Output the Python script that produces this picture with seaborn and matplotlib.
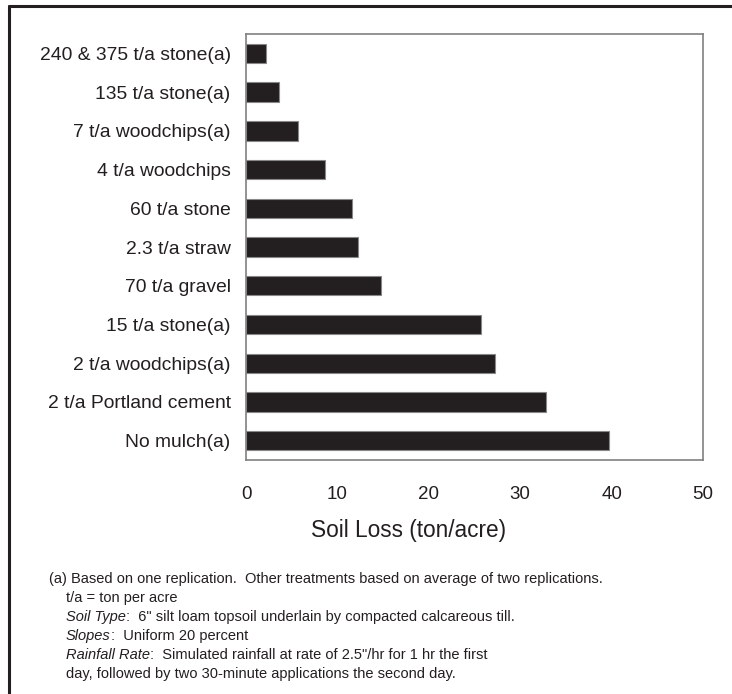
import numpy as np
import pandas as pd
import matplotlib
matplotlib.use('Agg')
import matplotlib.pyplot as plt
import seaborn as sns

# treatments, top to bottom as in the chart
treatments = ['240 & 375 t/a stone(a)', '135 t/a stone(a)', '7 t/a woodchips(a)',
              '4 t/a woodchips', '60 t/a stone', '2.3 t/a straw', '70 t/a gravel',
              '15 t/a stone(a)', '2 t/a woodchips(a)', '2 t/a Portland cement',
              'No mulch(a)']
soil_loss = [2.15, 3.65, 5.65, 8.6, 11.55, 12.2, 14.8, 25.7, 27.2, 32.8, 39.7]
x_ticks = [0, 10, 20, 30, 40, 50]

sns.set_style('white')
plt.rcParams['font.family'] = ['Liberation Sans', 'DejaVu Sans']

df = pd.DataFrame({'treatment': treatments, 'loss': soil_loss})

fig = plt.figure(figsize=(7.32, 6.94), dpi=100)
ax = fig.add_axes([246 / 732, 1 - 460 / 694, 457 / 732, 426 / 694])

sns.barplot(data=df, x='loss', y='treatment', order=treatments, color='#231f20',
            saturation=1, width=0.5, edgecolor='#888888', linewidth=0.8, ax=ax)

ax.set_xlim(0, 50)
ax.set_ylim(10.5, -0.5)
ax.set_xticks(x_ticks)
ax.set_xticklabels([str(t) for t in x_ticks], fontsize=13.5, color='#231f20')
ax.set_yticks(range(len(treatments)))
ax.set_yticklabels(treatments, fontsize=13.9, color='#231f20')
ax.set_yticks(np.arange(-0.5, len(treatments)), minor=True)
ax.tick_params(axis='y', which='major', length=0, pad=11)
ax.tick_params(axis='y', which='minor', length=5, color='#808080', width=1)
ax.tick_params(axis='x', which='major', length=5, color='#808080', width=1, pad=14)
ax.set_xlabel('Soil Loss (ton/acre)', fontsize=16.3, color='#231f20')
ax.xaxis.set_label_coords((409 - 246) / 457, -70 / 426)
ax.xaxis.label.set_va('center')
ax.set_ylabel('')
for s in ax.spines.values():
    s.set_visible(True)
    s.set_color('#808080')
    s.set_linewidth(1.2)

# frame around the figure (top and left only, image cropped)
fig.add_artist(plt.Line2D([9 / 732, 1], [1 - 6 / 694, 1 - 6 / 694], color='#231f20', lw=2.2))
fig.add_artist(plt.Line2D([9 / 732, 9 / 732], [0, 1 - 6 / 694], color='#231f20', lw=2.2))

# footnote
fs = 10.5
renderer = fig.canvas.get_renderer()


def note(x, y, italic, rest):
    xf, yf = x / 732, 1 - y / 694
    if italic:
        t = fig.text(xf, yf, italic, fontsize=fs, style='italic', va='center', color='#231f20')
        w = t.get_window_extent(renderer).width
        xf += w / 732
    fig.text(xf, yf, rest, fontsize=fs, va='center', color='#231f20')


note(49, 579, None, '(a) Based on one replication.  Other treatments based on average of two replications.')
note(66, 598, None, 't/a = ton per acre')
note(66, 617, 'Soil Type', ':  6" silt loam topsoil underlain by compacted calcareous till.')
note(66, 636, 'Slopes', ':  Uniform 20 percent')
note(66, 655, 'Rainfall Rate', ':  Simulated rainfall at rate of 2.5"/hr for 1 hr the first')
note(66, 674, None, 'day, followed by two 30-minute applications the second day.')

fig.savefig('out.png', dpi=100)
